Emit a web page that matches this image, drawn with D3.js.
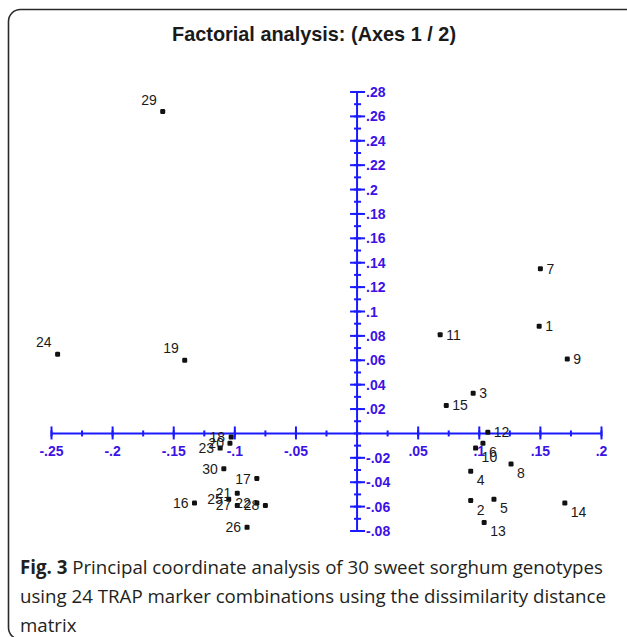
<!DOCTYPE html>
<html>
<head>
<meta charset="utf-8">
<script src="https://cdn.jsdelivr.net/npm/d3@7"></script>
<style>
  body { margin: 0; background: #fff; }
  svg { display: block; }
</style>
</head>
<body>
<div id="chart"></div>
<script>
// genotype ids and their coordinates on axis 1 / axis 2
var ids  = ["1","2","3","4","5","6","7","8","9","10",
            "11","12","13","14","15","16","17","18","19","20",
            "21","22","23","24","25","26","27","28","29","30"];
var ax1 = [0.149, 0.093, 0.095, 0.093, 0.112, 0.103, 0.150, 0.126, 0.172, 0.097,
           0.068, 0.107, 0.104, 0.170, 0.073, -0.133, -0.082, -0.103, -0.141, -0.104,
           -0.098, -0.082, -0.112, -0.245, -0.105, -0.090, -0.098, -0.075, -0.159, -0.109];
var ax2 = [0.088, -0.055, 0.033, -0.031, -0.054, -0.008, 0.135, -0.025, 0.061, -0.012,
           0.081, 0.001, -0.073, -0.057, 0.023, -0.057, -0.037, -0.003, 0.060, -0.008,
           -0.049, -0.057, -0.012, 0.065, -0.054, -0.077, -0.059, -0.059, 0.264, -0.029];

var xTicks = [-0.25, -0.2, -0.15, -0.1, -0.05, 0.05, 0.1, 0.15, 0.2];
var yTicks = [0.28, 0.26, 0.24, 0.22, 0.2, 0.18, 0.16, 0.14, 0.12, 0.1, 0.08, 0.06, 0.04, 0.02,
              -0.02, -0.04, -0.06, -0.08];

var title = "Factorial analysis: (Axes 1 / 2)";
var capLines = [["Fig. 3", " Principal coordinate analysis of 30 sweet sorghum genotypes"],
                ["", "using 24 TRAP marker combinations using the dissimilarity distance"],
                ["", "matrix"]];

var W = 627, H = 637;
var blue = "#1a1aff", lab = "#3c12e6";

var svg = d3.select("#chart").append("svg")
    .attr("width", W).attr("height", H);

// frame
svg.append("rect")
    .attr("x", 8.5).attr("y", 9.5)
    .attr("width", 700).attr("height", 630)
    .attr("rx", 12)
    .attr("fill", "none")
    .attr("stroke", "#2a2a2a")
    .attr("stroke-width", 1.6);

// condensed bold title
svg.append("text")
    .attr("x", 172).attr("y", 41)
    .attr("textLength", 284)
    .attr("lengthAdjust", "spacingAndGlyphs")
    .style("font-family", "'Liberation Sans Narrow', 'Arial Narrow', 'Liberation Sans', sans-serif")
    .style("font-weight", "bold")
    .style("font-size", "21px")
    .attr("fill", "#1a1a1a")
    .text(title);

var x = d3.scaleLinear().domain([-0.25, 0.2]).range([51.5, 601.5]);
var y = d3.scaleLinear().domain([-0.08, 0.28]).range([531, 92]);

var g = svg.append("g");

// axes lines
g.append("line")
    .attr("x1", x(-0.25)).attr("x2", x(0.2))
    .attr("y1", y(0)).attr("y2", y(0))
    .attr("stroke", blue).attr("stroke-width", 2);
g.append("line")
    .attr("x1", x(0)).attr("x2", x(0))
    .attr("y1", y(0.28)).attr("y2", y(-0.08))
    .attr("stroke", blue).attr("stroke-width", 2);

// minor ticks
var xMinor = d3.range(-10, 9).map(function(i) { return i * 0.025; });
var yMinor = d3.range(-8, 29).map(function(i) { return i / 100; });

g.selectAll(".xmin").data(xMinor).enter().append("line")
    .attr("x1", function(d) { return x(d); }).attr("x2", function(d) { return x(d); })
    .attr("y1", y(0) - 3).attr("y2", y(0) + 3)
    .attr("stroke", blue).attr("stroke-width", 2);
g.selectAll(".ymin").data(yMinor).enter().append("line")
    .attr("y1", function(d) { return y(d); }).attr("y2", function(d) { return y(d); })
    .attr("x1", x(0) - 3).attr("x2", x(0) + 4)
    .attr("stroke", blue).attr("stroke-width", 2);

// major ticks
g.selectAll(".xmaj").data(xTicks).enter().append("line")
    .attr("x1", function(d) { return x(d); }).attr("x2", function(d) { return x(d); })
    .attr("y1", y(0) - 7).attr("y2", y(0) + 6)
    .attr("stroke", blue).attr("stroke-width", 2);
g.selectAll(".ymaj").data(yTicks).enter().append("line")
    .attr("y1", function(d) { return y(d); }).attr("y2", function(d) { return y(d); })
    .attr("x1", x(0) - 7).attr("x2", x(0) + 8)
    .attr("stroke", blue).attr("stroke-width", 2);

function fmt(v) { return String(v).replace("0.", "."); }

g.selectAll(".xlab").data(xTicks).enter().append("text")
    .attr("x", function(d) { return x(d); })
    .attr("y", y(0) + 23)
    .attr("text-anchor", "middle")
    .style("font-family", "'Liberation Sans', Arial, sans-serif")
    .style("font-size", "14px")
    .style("font-weight", "bold")
    .attr("fill", lab)
    .text(fmt);
g.selectAll(".ylab").data(yTicks).enter().append("text")
    .attr("x", x(0) + 9)
    .attr("y", function(d) { return y(d) + 5; })
    .style("font-family", "'Liberation Sans', Arial, sans-serif")
    .style("font-size", "14px")
    .style("font-weight", "bold")
    .attr("fill", lab)
    .text(fmt);

// points
var pts = ids.map(function(id, i) { return {id: id, a: ax1[i], b: ax2[i]}; });

g.selectAll(".pt").data(pts).enter().append("rect")
    .attr("x", function(d) { return x(d.a) - 2.5; })
    .attr("y", function(d) { return y(d.b) - 2.5; })
    .attr("width", 5).attr("height", 5)
    .attr("rx", 1.2)
    .attr("fill", "#111");

// label placement by quadrant
g.selectAll(".pl").data(pts).enter().append("text")
    .attr("x", function(d) { return x(d.a) + (d.a < 0 ? -6 : 6); })
    .attr("y", function(d) {
      if (d.a < 0) return y(d.b) + (d.b > 0 ? -7 : 5);
      return y(d.b) + (d.b >= 0 ? 5 : 14);
    })
    .attr("text-anchor", function(d) { return d.a < 0 ? "end" : "start"; })
    .style("font-family", "'Liberation Sans', Arial, sans-serif")
    .style("font-size", "14px")
    .attr("fill", "#1a1a1a")
    .text(function(d) { return d.id; });

// caption
var cap = svg.append("g")
    .style("font-family", "'Open Sans', 'Noto Sans', sans-serif")
    .style("font-size", "18.7px")
    .attr("fill", "#231f20");
capLines.forEach(function(l, i) {
  var t = cap.append("text").attr("x", 20).attr("y", 574 + i * 29);
  if (l[0]) t.append("tspan").style("font-weight", "bold").text(l[0]);
  t.append("tspan").text(l[1]);
});
</script>
</body>
</html>
